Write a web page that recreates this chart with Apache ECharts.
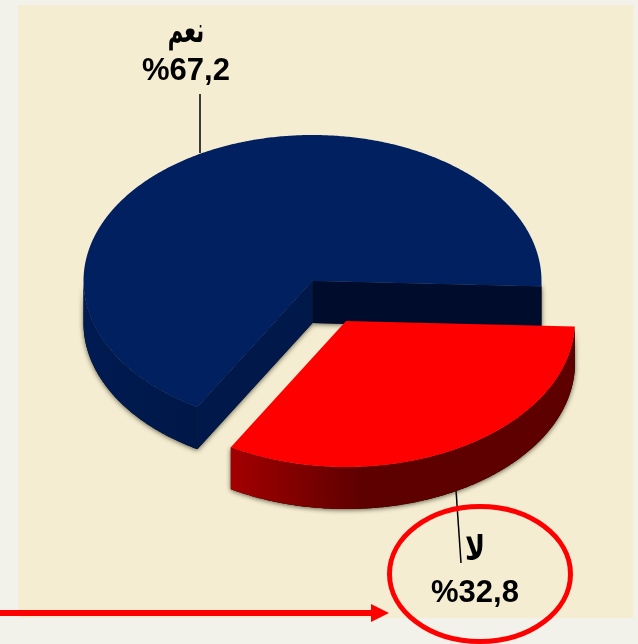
<!DOCTYPE html>
<html>
<head>
<meta charset="utf-8">
<style>html,body{margin:0;padding:0;background:#F2F1EA}#chart{width:638px;height:644px}</style>
<script src="https://cdn.jsdelivr.net/npm/echarts@6/dist/echarts.min.js"></script>
</head>
<body>
<div id="chart"></div>
<script>
var categories = ['نعم', 'لا'];
var percents = [67.2, 32.8];

var chart = echarts.init(document.getElementById('chart'), null, {renderer: 'canvas'});

var CX = 312.5, CY = 281, RX = 229, RY = 146, DEPTH = 42, START = 120.2;
var NUM_FONT = 'bold 31px "Liberation Sans", Arial, sans-serif';
var AR_FONT = 'bold 27px "DejaVu Sans", "Noto Sans", sans-serif';

var looks = [
  {
    top: '#012060',
    side: ['#001b52', '#001848'],
    sideStop: 1,
    wallStart: '#00184a',
    wallEnd: '#000c2b',
    dx: 0, dy: 0,
    line: [[200, 94], [200, 153]],
    labelX: 186, nameY: 33, valueY: 71, nameScale: [0.78, 1.3]
  },
  {
    top: '#ff0000',
    side: ['#a30000', '#5e0000'],
    sideStop: 0.38,
    wallStart: null,
    wallEnd: null,
    dx: 33.5, dy: 40,
    line: [[456, 490], [461, 563]],
    labelX: 475, nameY: 551, valueY: 593, nameScale: [1, 1.25]
  }
];

function pt(cx, cy, deg) {
  var a = deg * Math.PI / 180;
  return [cx + RX * Math.cos(a), cy + RY * Math.sin(a)];
}
function arc(cx, cy, from, to) {
  var pts = [], n = Math.max(2, Math.ceil(Math.abs(to - from) * 2));
  for (var i = 0; i <= n; i++) pts.push(pt(cx, cy, from + (to - from) * i / n));
  return pts;
}
function down(p) { return [p[0], p[1] + DEPTH]; }

function renderSlice(params, api) {
  var i = params.dataIndex, look = looks[i];
  var total = percents.reduce(function (a, b) { return a + b; }, 0);
  var before = percents.slice(0, i).reduce(function (a, b) { return a + b; }, 0);
  var a0 = START + before / total * 360;
  var a1 = a0 + api.value(1) / total * 360;
  var cx = CX + look.dx, cy = CY + look.dy;
  var shadow = {shadowBlur: 5, shadowColor: 'rgba(40,40,20,0.75)', shadowOffsetX: 0, shadowOffsetY: 1};
  var kids = [];

  // leader line
  kids.push({type: 'line', shape: {x1: look.line[0][0], y1: look.line[0][1], x2: look.line[1][0], y2: look.line[1][1]},
    style: {stroke: '#000', lineWidth: 1.5}});

  var c = [cx, cy], pStart = pt(cx, cy, a0), pEnd = pt(cx, cy, a1);
  var solids = [];

  // cut walls
  if (look.wallEnd) solids.push({points: [c, pEnd, down(pEnd), down(c)], fill: look.wallEnd});
  if (look.wallStart) solids.push({points: [c, pStart, down(pStart), down(c)], fill: look.wallStart});

  // outer rim: only the part of the arc that faces the viewer
  [[Math.max(a0, 0), Math.min(a1, 180)], [Math.max(a0, 360), Math.min(a1, 540)]].forEach(function (r) {
    if (r[1] <= r[0]) return;
    var upper = arc(cx, cy, r[0], r[1]);
    var lower = upper.map(down).reverse();
    var fill = new echarts.graphic.LinearGradient(0, 0, 1, 0, [
      {offset: 0, color: look.side[0]},
      {offset: look.sideStop, color: look.side[1]},
      {offset: 1, color: look.side[1]}
    ]);
    solids.push({points: upper.concat(lower), fill: fill});
  });

  // soft shadow pass first, clean faces on top so no shadow falls between faces
  solids.forEach(function (s) {
    kids.push({type: 'polygon', shape: {points: s.points}, style: Object.assign({fill: '#000'}, shadow)});
  });
  solids.forEach(function (s) {
    kids.push({type: 'polygon', shape: {points: s.points}, style: {fill: s.fill}});
  });

  // top face
  var face = [c].concat(arc(cx, cy, a0, a1));
  kids.push({type: 'polygon', shape: {points: face}, style: {fill: look.top}});

  // texts
  var valueText = '%' + String(api.value(1)).replace('.', ',');
  kids.push({type: 'text', x: look.labelX, y: look.nameY, scaleX: look.nameScale[0], scaleY: look.nameScale[1],
    style: {text: categories[i], x: 0, y: 0, align: 'center', verticalAlign: 'middle', font: AR_FONT, fill: '#000'}});
  kids.push({type: 'text', style: {text: valueText, x: look.labelX, y: look.valueY, align: 'center',
    verticalAlign: 'middle', font: NUM_FONT, fill: '#000'}});

  return {type: 'group', children: kids};
}

chart.setOption({
  animation: false,
  backgroundColor: '#F2F1EA',
  graphic: [
    {type: 'rect', z: -10, shape: {x: 18, y: 5, width: 615.5, height: 613}, style: {fill: '#F5EDD2'}},
    {type: 'ellipse', z: 100, shape: {cx: 480, cy: 574, rx: 90.5, ry: 67.5},
      style: {fill: 'none', stroke: '#ff0000', lineWidth: 5}},
    {type: 'rect', z: 100, shape: {x: 0, y: 610, width: 373, height: 6}, style: {fill: '#ff0000'}},
    {type: 'polygon', z: 100, shape: {points: [[371, 604], [389, 613], [371, 622]]}, style: {fill: '#ff0000'}}
  ],
  series: [{
    type: 'custom',
    coordinateSystem: 'none',
    z: 10,
    renderItem: renderSlice,
    encode: {value: 1},
    data: categories.map(function (name, i) { return [i, percents[i]]; })
  }]
});
</script>
</body>
</html>
